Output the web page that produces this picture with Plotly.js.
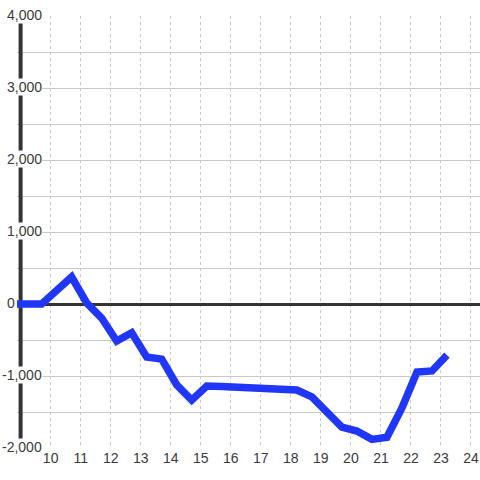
<!DOCTYPE html>
<html>
<head>
<meta charset="utf-8">
<script src="https://cdn.plot.ly/plotly-3.0.1.min.js"></script>
<style>
  html, body { margin: 0; padding: 0; background: #ffffff; }
  #chart { width: 480px; height: 480px; }
</style>
</head>
<body>
<div id="chart"></div>
<script>
// Time of day (hours) and values
const hours = [8.8, 9.7, 10.7, 11.2, 11.7, 12.2, 12.7, 13.2, 13.7, 14.2, 14.7, 15.2, 15.7,
               16.2, 16.7, 17.2, 17.7, 18.2, 18.7, 19.2, 19.7, 20.2, 20.7, 21.2, 21.7,
               22.2, 22.7, 23.2];
const values = [0, 0, 375, 15, -195, -515, -400, -735, -765, -1125, -1335, -1140, -1145,
                -1155, -1165, -1180, -1195, -1195, -1290, -1500, -1710, -1765, -1880, -1850, -1445,
                -945, -930, -710];
const xTickVals = [10, 11, 12, 13, 14, 15, 16, 17, 18, 19, 20, 21, 22, 23, 24];
const yLabelVals = [4000, 3000, 2000, 1000, 0, -1000, -2000];
const yLabelText = ["4,000", "3,000", "2,000", "1,000", "0", "-1,000", "-2,000"];

const font = { family: "Liberation Sans, Arial, sans-serif", size: 14, color: "#3a3a3a" };

const trace = {
  x: hours,
  y: values,
  type: "scatter",
  mode: "lines",
  line: { color: "#2136fb", width: 7.5 },
  hoverinfo: "skip"
};

const annotations = yLabelVals.map((v, i) => ({
  xref: "paper", yref: "y",
  x: 0, y: v,
  text: yLabelText[i],
  showarrow: false,
  xanchor: "right",
  yanchor: "middle",
  xshift: v === 0 ? -1 : 26,
  yshift: 1,
  bgcolor: "#ffffff",
  borderpad: 0,
  font: font
}));

const layout = {
  width: 480, height: 480,
  margin: { l: 17, r: 0, t: 16, b: 32, pad: 0 },
  paper_bgcolor: "#ffffff",
  plot_bgcolor: "#ffffff",
  showlegend: false,
  font: font,
  xaxis: {
    range: [8.88, 24.3],
    tickvals: xTickVals,
    ticktext: xTickVals.map(String),
    showgrid: true,
    gridcolor: "#c8c8c8",
    gridwidth: 1,
    griddash: "3px,3px",
    zeroline: false,
    showline: false,
    ticks: "",
    tickfont: font,
    fixedrange: true
  },
  yaxis: {
    range: [-2000, 4000],
    dtick: 500,
    showgrid: true,
    gridcolor: "#c8c8c8",
    gridwidth: 1,
    zeroline: true,
    zerolinecolor: "#333333",
    zerolinewidth: 3,
    showline: false,
    showticklabels: false,
    ticks: "",
    fixedrange: true
  },
  shapes: [{
    type: "line", xref: "x", yref: "y",
    x0: 9, x1: 9, y0: -2000, y1: 4000,
    line: { color: "#333333", width: 4 },
    layer: "between"
  }],
  annotations: annotations
};

Plotly.newPlot("chart", [trace], layout, { displayModeBar: false, staticPlot: true });
</script>
</body>
</html>
